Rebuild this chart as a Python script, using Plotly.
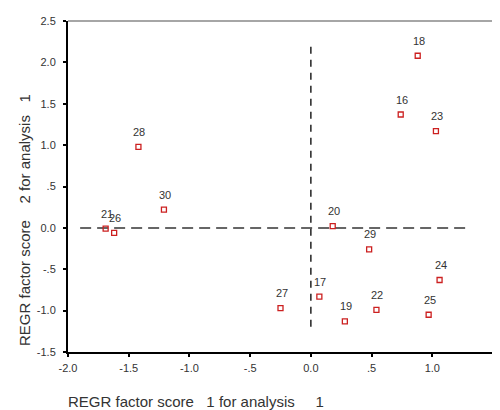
import plotly.graph_objects as go

# ---- data ----
case_labels = ["18", "16", "23", "28", "30", "21", "26", "20", "29", "24", "17", "27", "22", "25", "19"]
factor1 = [0.88, 0.74, 1.03, -1.42, -1.21, -1.69, -1.62, 0.18, 0.48, 1.06, 0.07, -0.25, 0.54, 0.97, 0.28]
factor2 = [2.08, 1.37, 1.17, 0.98, 0.22, -0.01, -0.06, 0.02, -0.26, -0.63, -0.83, -0.97, -0.99, -1.05, -1.13]

x_tickvals = [-2.0, -1.5, -1.0, -0.5, 0.0, 0.5, 1.0, 1.5]
x_ticktext = ["-2.0", "-1.5", "-1.0", "-.5", "0.0", ".5", "1.0", "1.5"]
y_tickvals = [-1.5, -1.0, -0.5, 0.0, 0.5, 1.0, 1.5, 2.0, 2.5]
y_ticktext = ["-1.5", "-1.0", "-.5", "0.0", ".5", "1.0", "1.5", "2.0", "2.5"]

ref_h_x = [-1.9, 1.32]
ref_h_y = [0.0, 0.0]
ref_v_x = [0.0, 0.0]
ref_v_y = [2.19, -1.25]

NB = "\u00a0"
x_title = "REGR factor score" + NB * 3 + "1 for analysis" + NB * 5 + "1"
y_title = "REGR factor score" + NB * 4 + "2 for analysis" + NB * 3 + "1"

FONT = "Liberation Sans, Arial, sans-serif"

fig = go.Figure()

fig.add_trace(go.Scatter(x=ref_h_x, y=ref_h_y, mode="lines",
                         line=dict(color="#666666", width=2, dash="11px,6px"),
                         hoverinfo="skip", showlegend=False))
fig.add_trace(go.Scatter(x=ref_v_x, y=ref_v_y, mode="lines",
                         line=dict(color="#222222", width=1.5, dash="7px,6px"),
                         hoverinfo="skip", showlegend=False))

fig.add_trace(go.Scatter(x=factor1, y=factor2, mode="markers",
                         marker=dict(symbol="square-open", size=5, color="#cc2020",
                                     line=dict(width=1.3, color="#cc2020")),
                         showlegend=False))

for lab, xv, yv in zip(case_labels, factor1, factor2):
    fig.add_annotation(x=xv, y=yv, text=lab, showarrow=False, yshift=15, xshift=1,
                       font=dict(family=FONT, size=11, color="#333333"))

fig.add_annotation(xref="paper", yref="paper", x=-0.004, y=-0.149, text=x_title,
                   showarrow=False, xanchor="left", yanchor="middle",
                   font=dict(family=FONT, size=15, color="#333333"))
fig.add_annotation(xref="paper", yref="paper", x=-0.101, y=0.399, text=y_title,
                   showarrow=False, textangle=-90, xanchor="center", yanchor="middle",
                   font=dict(family=FONT, size=15, color="#333333"))

# top and right frame lines (gray)
fig.add_shape(type="line", xref="paper", yref="paper", x0=0, x1=1, y0=1, y1=1,
              line=dict(color="#888888", width=1.5))
fig.add_shape(type="line", xref="paper", yref="paper", x0=1, x1=1, y0=0, y1=1,
              line=dict(color="#888888", width=1.5))

fig.update_xaxes(range=[-2.0, 1.5], tickvals=x_tickvals, ticktext=x_ticktext,
                 showgrid=False, zeroline=False, showline=True, linecolor="#000000",
                 linewidth=2, ticks="outside", ticklen=3, tickwidth=2, tickcolor="#000000",
                 ticklabelstandoff=2,
                 tickfont=dict(family=FONT, size=11, color="#333333"))
fig.update_yaxes(range=[-1.5, 2.5], tickvals=y_tickvals, ticktext=y_ticktext,
                 showgrid=False, zeroline=False, showline=True, linecolor="#000000",
                 linewidth=2, ticks="outside", ticklen=3, tickwidth=2, tickcolor="#000000",
                 ticklabelstandoff=5,
                 tickfont=dict(family=FONT, size=11, color="#333333"))

# the page adds an 8px body margin, so the figure is 8px smaller on each side
fig.update_layout(width=492, height=402, margin=dict(l=60, r=7, t=8, b=58),
                  paper_bgcolor="white", plot_bgcolor="white",
                  font=dict(family=FONT))

fig.write_html("out.html")
